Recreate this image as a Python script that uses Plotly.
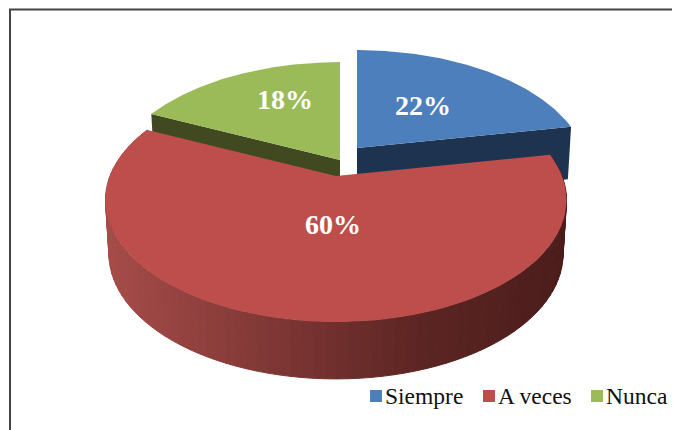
import numpy as np
import plotly.graph_objects as go

categories = ["Siempre", "A veces", "Nunca"]
values = [22, 60, 18]
labels = ["22%", "60%", "18%"]
top_colors = ["#4c7fbb", "#be4e4c", "#9bbb59"]
cut_colors = ["#1e3350", "#5a2322", "#40491f"]

# Pie geometry (pixel-like axis units) with a perspective projection
RX, RY, K = 226.0, 117.2, 0.197
DEPTH = 53.0
LOWER_SCALE = 0.985
APEX = [(357, 148), (336, 176), (340, 160)]

# The page body has an 8px margin, so the figure starts at (8, 8)
PAGE_OFFSET = 8
WIDTH, HEIGHT = 680, 430


def project(theta, r, apex, lower=False):
    u = r * np.sin(theta)
    v = r * np.cos(theta)
    w = 1 + K * v
    s = LOWER_SCALE if lower else 1.0
    x = apex[0] + s * RX * u / w
    y = apex[1] - s * RY * v / w
    if lower:
        y = y + DEPTH / np.sqrt(w)
    return x, y


def lerp_hex(c1, c2, t):
    a = [int(c1[i:i + 2], 16) for i in (1, 3, 5)]
    b = [int(c2[i:i + 2], 16) for i in (1, 3, 5)]
    return "#%02x%02x%02x" % tuple(int(round(p + (q - p) * t)) for p, q in zip(a, b))


def poly(fig, x, y, color, line=0):
    fig.add_trace(go.Scatter(
        x=list(x), y=list(y), mode="lines", fill="toself", fillcolor=color,
        line=dict(color=color, width=line), hoverinfo="skip", showlegend=False))


fractions = np.cumsum([0] + values) / sum(values)
spans = [(fractions[i] * 2 * np.pi, fractions[i + 1] * 2 * np.pi) for i in range(3)]

fig = go.Figure()

# Cut faces of the exploded blue and green slices
for i, edge in ((0, spans[0][1]), (2, spans[2][0])):
    ax, ay = project(edge, 0, APEX[i])
    ox, oy = project(edge, 1, APEX[i])
    lox, loy = project(edge, 1, APEX[i], True)
    lax, lay = project(edge, 0, APEX[i], True)
    poly(fig, [ax, ox, lox, lax, ax], [ay, oy, loy, lay, ay], cut_colors[i])

# Red rim as shaded strips
a0, a1 = spans[1]
edges = np.linspace(a0, a1, 91)
for t0, t1 in zip(edges[:-1], edges[1:]):
    xa, ya = project(t0, 1, APEX[1])
    xb, yb = project(t1, 1, APEX[1])
    xc, yc = project(t1, 1, APEX[1], True)
    xd, yd = project(t0, 1, APEX[1], True)
    f = ((xa + xb) / 2 - 105) / 461
    if f < 0.68:
        col = lerp_hex("#a64c49", "#5c2523", f / 0.68)
    else:
        col = lerp_hex("#5c2523", "#4b1d1b", (f - 0.68) / 0.32)
    poly(fig, [xa, xb, xc, xd, xa], [ya, yb, yc, yd, ya], col, 1)

# Top faces
for i in range(3):
    th = np.linspace(spans[i][0], spans[i][1], 121)
    x, y = project(th, 1, APEX[i])
    poly(fig, [APEX[i][0], *x, APEX[i][0]], [APEX[i][1], *y, APEX[i][1]], top_colors[i])

# Legend: square swatches and their names
legend_x = [376, 489, 597]
legend_y = 396
fig.add_trace(go.Scatter(
    x=legend_x, y=[legend_y] * 3, mode="markers", showlegend=False, hoverinfo="skip",
    marker=dict(symbol="square", size=12, color=top_colors, line=dict(width=0))))
for name, lx in zip(categories, legend_x):
    fig.add_annotation(x=lx + 9, y=legend_y, text=name, showarrow=False,
                       xanchor="left", yanchor="middle", xshift=-2,
                       font=dict(family="Liberation Serif", size=23.5, color="#111111"))

label_pos = [(423, 105), (333, 224), (285, 99)]
for text, (lx, ly) in zip(labels, label_pos):
    fig.add_annotation(x=lx, y=ly, text=text, showarrow=False,
                       font=dict(family="Liberation Serif", size=28, color="white", weight="bold"))

fig.update_layout(
    width=WIDTH - PAGE_OFFSET, height=HEIGHT - PAGE_OFFSET, autosize=False,
    margin=dict(l=0, r=0, t=0, b=0),
    paper_bgcolor="white", plot_bgcolor="white",
    xaxis=dict(range=[PAGE_OFFSET, WIDTH], visible=False, fixedrange=True),
    yaxis=dict(range=[HEIGHT, PAGE_OFFSET], visible=False, fixedrange=True),
    showlegend=False,
    shapes=[dict(type="rect", x0=10, y0=9.5, x1=700, y1=450,
                 line=dict(color="#444444", width=2))],
)
fig.write_html("out.html")
